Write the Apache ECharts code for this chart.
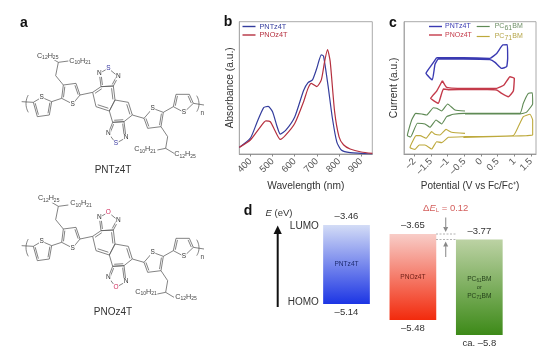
<!DOCTYPE html>
<html><head><meta charset="utf-8">
<style>html,body{margin:0;padding:0;background:#fff}#c{width:554px;height:351px}</style>
<script src="https://cdn.jsdelivr.net/npm/echarts@6/dist/echarts.min.js"></script>
</head><body><div id="c"></div>
<script>
// ---- panel b: absorbance ----
const nmBlue=[350,400,430,460,480,500,520,535,560,600,640,660,680,700,720,730,750,770,790,810,850,950];
const absBlue=[5,12,24,35,36,32,21,15,18,28,48,54,56,65,75,74,52,27,9,3,1,0];
const nmRed=[350,400,440,470,490,510,535,560,600,640,660,675,700,720,735,748,760,780,800,820,850,900,950];
const absRed=[5,10.6,19.4,25,24.4,18,11,14.4,23,39.5,49.6,53.4,51,56,70,79,70,32,13,7,3.8,1.5,0.5];
const nmTicks=[400,500,600,700,800,900];
// ---- panel c: cyclic voltammetry (V, current a.u.) ----
const cvPNT=[[-1.33,72.8],[-.53,72.8],[.27,72.3],[.47,76],[.65,82.4],[.79,82.6],[.8,72.3],[.77,66],[.62,64.7],[.42,69.3],[.27,71.3],[-.53,71.8],[-1.28,71.8],[-1.38,67.8],[-1.46,56],[-1.65,61],[-1.48,67.3],[-1.33,72.8]];
const cvPNO=[[-1.16,55.4],[-1.03,50.4],[-.33,49.6],[.47,49.6],[.69,52.1],[.87,58.4],[1,57.2],[.97,47.6],[.82,43.3],[.62,45.8],[.47,48.4],[-.33,48.9],[-.98,48.6],[-1.13,49.1],[-1.28,38.3],[-1.51,42.1],[-1.33,47.6],[-1.16,55.4]];
const cvPC61=[[-.48,32.5],[-.78,33.3],[-1,37.8],[-1.18,32.5],[-1.33,34.5],[-1.43,35],[-1.63,29.5],[-1.78,30.2],[-1.96,30.7],[-2.08,25.7],[-2.21,13.9],[-2.11,12.9],[-1.91,23.2],[-1.68,22.7],[-1.53,20.2],[-1.35,25.7],[-1.18,22.7],[-1.03,28.2],[-.83,30],[-.48,30.7],[1.17,30.7],[1.27,38.3],[1.42,45.8],[1.54,46.3],[1.55,38],[1.37,31.7],[1.17,30.2],[-.48,30.2]];
const cvPC71=[[-.48,15.6],[-.88,16.4],[-1.05,18.6],[-1.23,14.4],[-1.38,14.9],[-1.48,16.9],[-1.65,11.9],[-1.83,13.9],[-1.95,13.9],[-2.08,8.1],[-2.13,4.8],[-1.98,3.5],[-1.85,6.8],[-1.68,6.8],[-1.48,3.8],[-1.33,9.3],[-1.18,8.6],[-.98,12.6],[-.48,13.1],[.97,13.9],[1.12,20.7],[1.27,28.2],[1.47,30],[1.55,25.7],[1.55,14.4],[1.37,13.9],[1.02,13.6],[-.53,12.6]];
const vTicks=[-2,-1.5,-1,-.5,0,.5,1,1.5];
// ---- panel d: energy levels (eV) ----
const materials=['PNTz4T','PNOz4T','PCBM'];
const lumo=[-3.46,-3.65,-3.77];
const homo=[-5.14,-5.48,-5.8];
const lumoText=['\u20133.46','\u20133.65','\u20133.77'];
const homoText=['\u20135.14','\u20135.48','ca. \u20135.8'];
const barStops=[['#d3dcf6','#1c35e4'],['#f8cdc8','#f22a0c'],['#bcd2a4','#3d8a18']];
const barInk=['#1d2b70','#6b1c14','#24401a'];
// ---- molecule sketches (a) ----
const rings=[
 {p:[[100,292],[125,277],[155,290],[148,330],[112,335]],d:[[2,3],[4,0]]},
 {p:[[185,280],[190,240],[228,235],[240,270],[218,297]],d:[[0,1],[2,3]]},
 {p:[[432,340],[458,310],[490,322],[483,365],[443,370]],d:[[2,3],[4,0]]},
 {p:[[520,305],[528,268],[568,268],[580,295],[552,322]],d:[[0,1],[2,3]]},
 {p:[[278,262],[303,245],[340,243],[345,285],[328,318],[288,305]],d:[[0,1],[2,3],[4,5]]},
 {p:[[345,285],[385,292],[397,330],[372,350],[338,352],[328,318]],d:[[1,2],[3,4]]},
 {p:[[303,245],[340,243],[355,215],[325,190],[298,205]],d:[[1,2],[4,0]]},
 {p:[[338,352],[372,350],[378,398],[348,415],[325,385]],d:[[1,2],[4,0]]}
];
const chains=[[[65,290],[100,292]],[[155,290],[185,280]],[[240,270],[278,262]],[[397,330],[432,340]],[[490,322],[520,305]],[[580,295],[612,300]],
 [[190,240],[167,212],[175,172],[155,160]],[[175,172],[205,168]],[[483,365],[503,395],[497,430],[472,435]],[[497,430],[522,445]]];
const atomsS=[[125,277],[218,297],[458,310],[552,322]];
const atomsN=[[298,205],[355,215],[325,385],[378,398]];
const heteroAtoms=[[325,190],[348,415]];
const sideChains=[[143,152,'C{s|12}H{s|25}'],[240,168,'C{s|10}H{s|21}'],[435,433,'C{s|10}H{s|21}'],[555,448,'C{s|12}H{s|25}']];

const FONT='"Liberation Sans",Arial,sans-serif';
const g=[];
function text(x,y,t,o={}){g.push({type:'text',x,y,silent:true,z:o.z||5,rotation:o.rot||0,style:Object.assign({text:t,fill:o.fill||'#333',font:(o.w?o.w+' ':'')+(o.size||10)+'px '+FONT,align:o.align||'center',verticalAlign:'middle'},o.extra||{})})}
function line(pts,o={}){g.push({type:'polyline',silent:true,z:o.z||4,shape:{points:pts,smooth:o.smooth||0},style:{stroke:o.stroke||'#5a5a5a',lineWidth:o.lw||0.75,fill:null,lineDash:o.dash||null}})}
function molecule(dy,atom,atomColor,title,titleY){
 const P=q=>[q[0]/3,5+q[1]/3+dy];
 rings.forEach(r=>{
  const pts=r.p.map(P);line(pts.concat([pts[0]]));
  const c=pts.reduce((a,b)=>[a[0]+b[0]/pts.length,a[1]+b[1]/pts.length],[0,0]);
  r.d.forEach(e=>{const a=pts[e[0]],b=pts[e[1]],s=0.2;
   const ia=[a[0]+(c[0]-a[0])*s,a[1]+(c[1]-a[1])*s],ib=[b[0]+(c[0]-b[0])*s,b[1]+(c[1]-b[1])*s];line([ia,ib]);});
 });
 chains.forEach(c=>line(c.map(P)));
 line([[85,270],[78,296],[85,322]].map(P),{smooth:0.6});
 line([[590,272],[597,297],[590,320]].map(P),{smooth:0.6});
 const lab=(q,t,fill)=>{const p=P(q);text(p[0],p[1],t,{fill,size:6.5,z:6,extra:{backgroundColor:'#fff',padding:[0,0.5]}})};
 atomsS.forEach(q=>lab(q,'S','#333'));
 atomsN.forEach(q=>lab(q,'N','#333'));
 heteroAtoms.forEach(q=>lab(q,atom,atomColor));
 sideChains.forEach(q=>{const p=P(q);text(p[0]+(dy?1:0),p[1]-(dy?1.5:0),q[2],{size:7.2,fill:'#444',z:6,extra:{backgroundColor:'#fff',rich:{s:{font:'5px '+FONT,fill:'#444',verticalAlign:'bottom',padding:[4,0,0,0]}}}})});
 const n=P([607,325]);text(n[0],n[1],'n',{size:6.5,fill:'#444'});
 text(113,titleY,title,{size:10,fill:'#333'});
}
molecule(0,'S','#33339e','PNTz4T',170);
molecule(144,'O','#d0285a','PNOz4T',312.7);
// panel letters
[[24,23,'a'],[228,22,'b'],[393,23,'c'],[248,211,'d']].forEach(l=>text(l[0],l[1],l[2],{w:'bold',size:14,fill:'#111'}));
// panel d annotations
line([[277.7,307],[277.7,232]],{stroke:'#111',lw:2});
g.push({type:'polygon',silent:true,shape:{points:[[277.7,225.5],[273.6,234],[281.8,234]]},style:{fill:'#111'}});
text(279,213.3,'{i|E} (eV)',{size:9.5,fill:'#333',extra:{rich:{i:{font:'italic 9.5px '+FONT,fill:'#333'}}}});
text(304.3,226.7,'LUMO',{size:10,fill:'#333'});
text(303.3,302.3,'HOMO',{size:10,fill:'#333'});
text(445.7,208.3,'\u0394{i|E}{s|L} = 0.12',{size:9.5,fill:'#d4605e',extra:{rich:{i:{font:'italic 9.5px '+FONT,fill:'#d4605e'},s:{font:'6px '+FONT,fill:'#d4605e',verticalAlign:'bottom',padding:[4,0,0,0]}}}});
line([[436,234],[456,234]],{stroke:'#999',dash:[2,1.5]});
line([[436,239.5],[456,239.5]],{stroke:'#999',dash:[2,1.5]});
line([[445.7,217.5],[445.7,228]],{stroke:'#999',lw:1.2});
g.push({type:'polygon',silent:true,shape:{points:[[445.7,232],[443.2,227],[448.2,227]]},style:{fill:'#888'}});
line([[445.7,257],[445.7,246]],{stroke:'#999',lw:1.2});
g.push({type:'polygon',silent:true,shape:{points:[[445.7,241.5],[443.2,246.5],[448.2,246.5]]},style:{fill:'#888'}});

const zip=(a,b)=>a.map((v,i)=>[v,b[i]]);
const C={blue:'#343d9d',red:'#b5303f',cBlue:'#3a3ab2',cRed:'#c43a4a',green:'#5f8a55',yellow:'#bda93c'};
const axisBase={axisLine:{onZero:false,lineStyle:{color:'#999',width:1}},splitLine:{show:false}};
const sub={font:'5px '+FONT,verticalAlign:'bottom',padding:[3,0,0,0]};
const mkSeries=(name,data,color,xi,lw,sm)=>({name,type:'line',data,xAxisIndex:xi,yAxisIndex:xi,showSymbol:false,symbol:'none',smooth:sm,silent:true,animation:false,lineStyle:{color,width:lw},itemStyle:{color}});
const yAxisBase=n=>({type:'value',min:0,max:100,nameLocation:'middle',name:n,nameTextStyle:{fontSize:10.2,color:'#333'},axisLabel:{show:false},axisTick:{show:false},axisLine:{onZero:false,lineStyle:{color:'#aaa'}},splitLine:{show:false}});

const chart=echarts.init(document.getElementById('c'),null,{renderer:'canvas'});
chart.setOption({
 animation:false,backgroundColor:'#fff',textStyle:{fontFamily:FONT},
 grid:[
  {left:239.3,top:21.7,width:133,height:132.3,show:true,borderColor:'#aaa',borderWidth:1,containLabel:false},
  {left:404,top:21.7,width:132,height:132.3,show:true,borderColor:'#aaa',borderWidth:1,containLabel:false},
  {left:313.3,top:203.4,width:199.2,height:141,containLabel:false}
 ],
 xAxis:[
  Object.assign({},axisBase,{gridIndex:0,type:'value',min:350,max:950,name:'Wavelength (nm)',nameLocation:'middle',nameGap:27,nameTextStyle:{fontSize:10.2,color:'#333',fontFamily:FONT},
   axisTick:{length:2.5,lineStyle:{color:'#888'},customValues:nmTicks},
   axisLabel:{customValues:nmTicks,rotate:45,fontSize:9.5,color:'#555',margin:6,fontFamily:FONT}}),
  Object.assign({},axisBase,{gridIndex:1,type:'value',min:-2.31,max:1.65,name:'Potential (V vs Fc/Fc\u207a)',nameLocation:'middle',nameGap:27,nameTextStyle:{fontSize:10,color:'#333',fontFamily:FONT},
   axisTick:{length:2.5,lineStyle:{color:'#888'},customValues:vTicks},
   axisLabel:{customValues:vTicks,rotate:45,fontSize:9.5,color:'#555',margin:6,fontFamily:FONT,formatter:v=>v<0?'\u2013'+(-v):String(v)}}),
  {gridIndex:2,type:'category',data:materials,show:false}
 ],
 yAxis:[
  Object.assign(yAxisBase('Absorbance (a.u.)'),{gridIndex:0,nameGap:4}),
  Object.assign(yAxisBase('Current (a.u.)'),{gridIndex:1,nameGap:5}),
  {gridIndex:2,type:'value',min:-6,max:-3,show:false}
 ],
 legend:[
  {left:242.5,top:23,orient:'vertical',icon:'rect',itemWidth:13,itemHeight:1.4,itemGap:1.5,padding:0,textStyle:{fontSize:7.3,padding:[0,0,0,-1]},
   data:[{name:'PNTz4T',textStyle:{color:C.blue}},{name:'PNOz4T',textStyle:{color:C.red}}],selectedMode:false},
  {left:429,top:23,orient:'vertical',icon:'rect',itemWidth:13,itemHeight:1.4,itemGap:1.5,padding:0,textStyle:{fontSize:7,padding:[0,0,0,-2]},
   data:[{name:'PNTz4T ',textStyle:{color:C.cBlue}},{name:'PNOz4T ',textStyle:{color:C.cRed}}],selectedMode:false},
  {left:476.7,top:23,orient:'vertical',icon:'rect',itemWidth:13,itemHeight:1.2,itemGap:1.5,padding:0,selectedMode:false,
   textStyle:{fontSize:7,color:'#6e8f66',rich:{g:{fontSize:7,color:'#6e8f66'},gs:Object.assign({color:'#6e8f66'},sub),y:{fontSize:7,color:'#b5a548'},ys:Object.assign({color:'#b5a548'},sub)}},
   data:['PC61BM','PC71BM'],
   formatter:n=>n==='PC61BM'?'{g|PC}{gs|61}{g|BM}':'{y|PC}{ys|71}{y|BM}'}
 ],
 series:[
  mkSeries('PNTz4T',zip(nmBlue,absBlue),C.blue,0,1.2,0.2),
  mkSeries('PNOz4T',zip(nmRed,absRed),C.red,0,1.2,0.2),
  mkSeries('PNTz4T ',cvPNT,C.cBlue,1,1.4,0.12),
  mkSeries('PNOz4T ',cvPNO,C.cRed,1,1.4,0.12),
  mkSeries('PC61BM',cvPC61,C.green,1,1.1,0.12),
  mkSeries('PC71BM',cvPC71,C.yellow,1,1.1,0.12),
  {type:'custom',xAxisIndex:2,yAxisIndex:2,silent:true,animation:false,clip:false,
   data:materials.map((m,i)=>[i,lumo[i],homo[i]]),
   encode:{x:0,y:[1,2]},
   renderItem:(params,api)=>{
    const i=api.value(0),top=api.coord([i,api.value(1)]),bot=api.coord([i,api.value(2)]);
    const w=46.7,x=top[0]-w/2,ink=barInk[i],mid=(top[1]+bot[1])/2;
    const T=(yy,t,f,xtra)=>({type:'text',x:top[0],y:yy,style:Object.assign({text:t,fill:f,font:'6.6px '+FONT,align:'center',verticalAlign:'middle'},xtra||{})});
    const kids=[{type:'rect',shape:{x,y:top[1],width:w,height:bot[1]-top[1]},style:{fill:{type:'linear',x:0,y:0,x2:0,y2:1,colorStops:[{offset:0,color:barStops[i][0]},{offset:1,color:barStops[i][1]}]}}},
     T(top[1]-8.6,lumoText[i],'#333',{font:'9.5px '+FONT}),
     T(bot[1]+8.6,homoText[i],'#333',{font:'9.5px '+FONT})];
    if(i<2) kids.push(T(mid,materials[i],ink));
    else{
     const r={rich:{s:{font:'4.6px '+FONT,fill:ink,verticalAlign:'bottom',padding:[3,0,0,0]}}};
     kids.push(T(mid-8,'PC{s|61}BM',ink,r),T(mid,'or',ink,{font:'5.5px '+FONT}),T(mid+9,'PC{s|71}BM',ink,r));
    }
    return {type:'group',children:kids};
   }}
 ],
 graphic:{elements:g}
});
</script></body></html>
